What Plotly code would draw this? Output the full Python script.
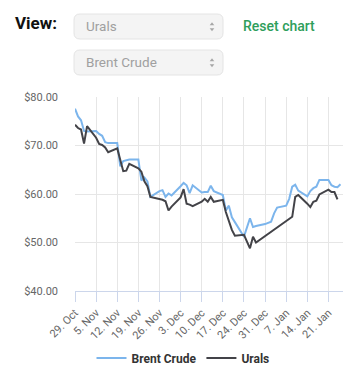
import plotly.graph_objects as go

# ---------------- data ----------------
brent_dates = [
    "2018-10-29", "2018-10-30", "2018-10-31", "2018-11-01", "2018-11-02",
    "2018-11-05", "2018-11-06", "2018-11-07", "2018-11-08", "2018-11-09",
    "2018-11-12", "2018-11-13", "2018-11-14", "2018-11-15", "2018-11-16",
    "2018-11-19", "2018-11-20", "2018-11-21", "2018-11-22", "2018-11-23",
    "2018-11-26", "2018-11-27", "2018-11-28", "2018-11-29", "2018-11-30",
    "2018-12-03", "2018-12-04", "2018-12-05", "2018-12-06", "2018-12-07",
    "2018-12-10", "2018-12-11", "2018-12-12", "2018-12-13", "2018-12-14",
    "2018-12-17", "2018-12-18", "2018-12-19", "2018-12-20", "2018-12-21",
    "2018-12-24", "2018-12-26", "2018-12-27", "2018-12-28", "2018-12-31",
    "2019-01-02", "2019-01-03", "2019-01-04", "2019-01-07", "2019-01-08",
    "2019-01-09", "2019-01-10", "2019-01-11", "2019-01-14", "2019-01-15",
    "2019-01-16", "2019-01-17", "2019-01-18", "2019-01-21", "2019-01-22",
    "2019-01-23", "2019-01-24", "2019-01-25",
]
brent_values = [
    77.6, 76.0, 75.2, 73.0, 72.9,
    73.0, 72.4, 72.0, 70.7, 70.5,
    70.5, 65.7, 66.8, 67.0, 67.1,
    67.1, 62.8, 63.4, 62.6, 59.4,
    60.6, 60.8, 59.4, 60.1, 59.7,
    61.6, 62.3, 61.8, 60.2, 61.8,
    60.3, 60.4, 60.4, 61.7, 60.6,
    59.8, 56.6, 57.6, 55.2, 54.2,
    51.2, 55.0, 53.2, 53.4, 53.8,
    54.3, 56.0, 57.2, 57.6, 59.0,
    61.5, 61.9, 60.7, 59.5, 60.6,
    61.2, 61.5, 62.9, 62.9, 61.8,
    61.5, 61.4, 62.0,
]

urals_dates = [
    "2018-10-29", "2018-10-30", "2018-10-31", "2018-11-01", "2018-11-02",
    "2018-11-05", "2018-11-06", "2018-11-07", "2018-11-08", "2018-11-09",
    "2018-11-12", "2018-11-13", "2018-11-14", "2018-11-15", "2018-11-16",
    "2018-11-19", "2018-11-20", "2018-11-21", "2018-11-22", "2018-11-23",
    "2018-11-26", "2018-11-27", "2018-11-28", "2018-11-29", "2018-11-30",
    "2018-12-03", "2018-12-04", "2018-12-05", "2018-12-06", "2018-12-07",
    "2018-12-10", "2018-12-11", "2018-12-12", "2018-12-13", "2018-12-14",
    "2018-12-17", "2018-12-18", "2018-12-19", "2018-12-20", "2018-12-21",
    "2018-12-24", "2018-12-26", "2018-12-27", "2018-12-28",
    "2019-01-09", "2019-01-10", "2019-01-11", "2019-01-14", "2019-01-15",
    "2019-01-16", "2019-01-17", "2019-01-18", "2019-01-21", "2019-01-22",
    "2019-01-23", "2019-01-24",
]
urals_values = [
    74.3, 73.6, 73.3, 70.4, 74.0,
    71.6, 70.3, 70.1, 69.6, 68.6,
    69.4, 67.0, 64.7, 64.8, 66.2,
    65.3, 64.6, 62.6, 61.6, 59.4,
    59.0, 58.8, 58.5, 56.6, 57.4,
    59.3, 61.0, 58.0, 57.8, 57.5,
    58.4, 59.0, 58.4, 59.4, 58.4,
    58.8, 56.3, 54.5, 52.6, 51.4,
    51.6, 48.8, 51.2, 50.0,
    55.3, 59.4, 59.8, 58.0, 57.3,
    58.4, 58.6, 59.9, 60.9, 60.4,
    60.4, 58.9,
]

series_names = ["Brent Crude", "Urals"]
select_labels = ["Urals", "Brent Crude"]
view_label = "View:"
reset_label = "Reset chart"

# ---------------- geometry helpers (pixel -> paper) ----------------
W, H = 363, 379
ML, MR, MT, MB = 75, 20, 97, 88
PW, PH = W - ML - MR, H - MT - MB


def px(x):
    return (x - ML) / PW


def py(y):
    return (H - MB - y) / PH


def rounded_rect(x0, y0, x1, y1, r):
    pts = [
        f"M{px(x0 + r)},{py(y0)}",
        f"L{px(x1 - r)},{py(y0)}",
        f"Q{px(x1)},{py(y0)} {px(x1)},{py(y0 + r)}",
        f"L{px(x1)},{py(y1 - r)}",
        f"Q{px(x1)},{py(y1)} {px(x1 - r)},{py(y1)}",
        f"L{px(x0 + r)},{py(y1)}",
        f"Q{px(x0)},{py(y1)} {px(x0)},{py(y1 - r)}",
        f"L{px(x0)},{py(y0 + r)}",
        f"Q{px(x0)},{py(y0)} {px(x0 + r)},{py(y0)}",
        "Z",
    ]
    return " ".join(pts)


def tri(cx, ybase, ytip, hw):
    return (f"M{px(cx - hw)},{py(ybase)} L{px(cx + hw)},{py(ybase)} "
            f"L{px(cx)},{py(ytip)} Z")


fig = go.Figure()
fig.add_trace(go.Scatter(
    x=brent_dates, y=brent_values, name=series_names[0], mode="lines",
    line=dict(color="#7cb5ec", width=2), hoverinfo="skip"))
fig.add_trace(go.Scatter(
    x=urals_dates, y=urals_values, name=series_names[1], mode="lines",
    line=dict(color="#434348", width=2), hoverinfo="skip"))

shapes = []
annotations = []
# select boxes
for i, (y0, y1) in enumerate([(14, 39), (50, 75)]):
    shapes.append(dict(type="path", xref="paper", yref="paper",
                       path=rounded_rect(74, y0, 223, y1, 6),
                       fillcolor="#f4f4f4", line=dict(color="#e4e4e4", width=1),
                       layer="above"))
    cy = (y0 + y1) / 2
    shapes.append(dict(type="path", xref="paper", yref="paper",
                       path=tri(212, cy - 1.2, cy - 4.2, 2.3),
                       fillcolor="#a6a6a6", line=dict(width=0)))
    shapes.append(dict(type="path", xref="paper", yref="paper",
                       path=tri(212, cy + 1.8, cy + 4.8, 2.3),
                       fillcolor="#a6a6a6", line=dict(width=0)))
    annotations.append(dict(xref="paper", yref="paper", x=px(84), y=py(cy),
                            xanchor="left", yanchor="middle", showarrow=False,
                            text=select_labels[i],
                            font=dict(family="Roboto", size=13.5, color="#a0a0a0")))

annotations.append(dict(xref="paper", yref="paper", x=px(13), y=py(23),
                        xanchor="left", yanchor="middle", showarrow=False,
                        text=f"<b>{view_label}</b>",
                        font=dict(family="Roboto", size=17, color="#111111")))
annotations.append(dict(xref="paper", yref="paper", x=px(241), y=py(25.5),
                        xanchor="left", yanchor="middle", showarrow=False,
                        text=reset_label,
                        font=dict(family="Roboto", size=14, color="#2e9e5b",
                                  weight=500)))

fig.update_layout(
    width=W, height=H,
    margin=dict(l=ML, r=MR, t=MT, b=MB, pad=0),
    paper_bgcolor="white", plot_bgcolor="white",
    font=dict(family="Roboto", color="#666666"),
    showlegend=True,
    legend=dict(orientation="h", x=183 / W, y=1 - 358 / H, xanchor="center",
                yanchor="middle", xref="container", yref="container",
                font=dict(size=12, color="#333333", weight="bold"),
                bgcolor="rgba(0,0,0,0)", borderwidth=0),
    shapes=shapes,
    annotations=annotations,
    xaxis=dict(
        type="date",
        range=["2018-10-29", "2019-01-25 20:00"],
        tick0="2018-10-29", dtick=7 * 86400000,
        tickformat="%-d. %b", tickangle=-45,
        showgrid=True, gridcolor="#e6e6e6", gridwidth=1,
        showline=True, linecolor="#ccd6eb", linewidth=1,
        ticks="outside", ticklen=10, tickcolor="#ccd6eb",
        tickfont=dict(size=11, color="#666666"),
        zeroline=False, fixedrange=True, automargin=False,
    ),
    yaxis=dict(
        range=[40, 80], dtick=10, tick0=40,
        tickprefix="$", tickformat=".2f",
        showgrid=True, gridcolor="#e6e6e6", gridwidth=1,
        showline=False, zeroline=False, ticks="",
        ticklabelstandoff=16,
        tickfont=dict(size=11, color="#666666"),
        fixedrange=True, automargin=False,
    ),
)

fig.write_html("out.html", config={"displayModeBar": False},
               post_script="document.body.style.margin='0';")
